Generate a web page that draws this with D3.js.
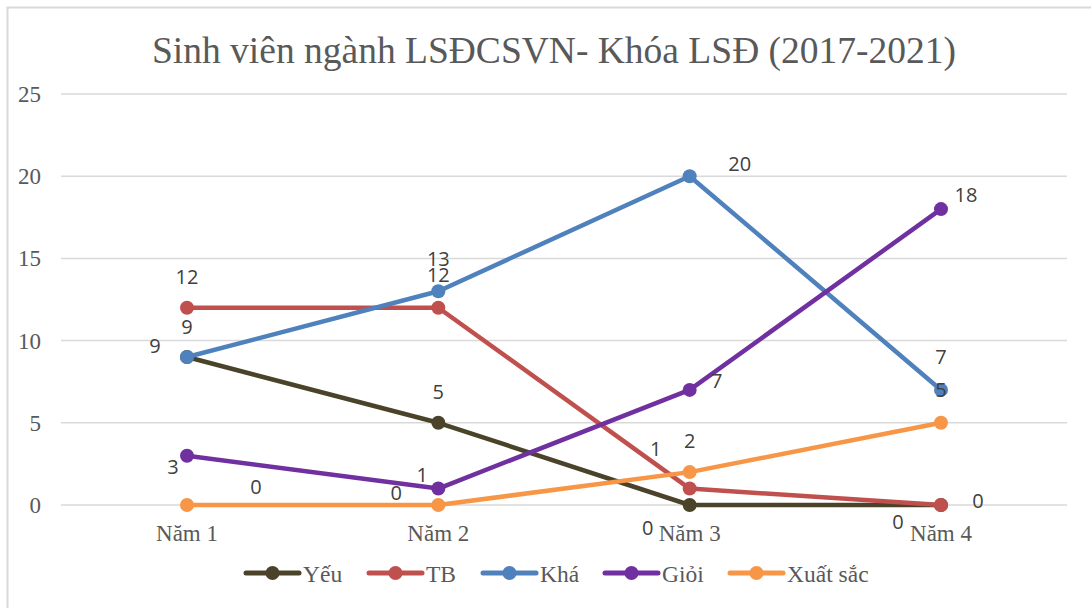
<!DOCTYPE html>
<html>
<head>
<meta charset="utf-8">
<script src="https://cdnjs.cloudflare.com/ajax/libs/d3/7.8.5/d3.min.js"></script>
<style>
  body { margin: 0; background: #fff; }
</style>
</head>
<body>
<div id="chart"></div>
<script>
// dữ liệu
const categories = ["Năm 1", "Năm 2", "Năm 3", "Năm 4"]
const seriesNames = ["Yếu", "TB", "Khá", "Giỏi", "Xuất sắc"]
const yeu = [9, 5, 0, 0]
const tb = [12, 12, 1, 0]
const kha = [9, 13, 20, 7]
const gioi = [3, 1, 7, 18]
const xuatSac = [0, 0, 2, 5]
const yTicks = [0, 5, 10, 15, 20, 25]

const colors = ["#4a432a", "#c0504d", "#4f81bd", "#7030a0", "#f79646"]
const allValues = [yeu, tb, kha, gioi, xuatSac]

// vị trí nhãn dữ liệu (dx, dy) so với điểm
const labelOffsets = [
	[[-32, -12], [0, -31], [-42, 22], [-43, 16]],
	[[0, -31], [0, -33], [-34, -40], [37, -5]],
	[[0, -31], [0, -33], [50, -13], [0, -33]],
	[[-14, 11], [-16, -14], [27, -9], [25, -15]],
	[[69, -19], [-42, -13], [0, -32], [0, -33]]
]

const width = 1091
const height = 608
const serif = "'Liberation Serif', 'Times New Roman', serif"

const svg = d3.select("#chart").append("svg")
	.attr("width", width)
	.attr("height", height)

// khung ngoài
svg.append("rect")
	.attr("x", 7.5)
	.attr("y", 7.5)
	.attr("width", 1200)
	.attr("height", 800)
	.attr("fill", "none")
	.attr("stroke", "#d9d9d9")
	.attr("stroke-width", 2)

svg.append("text")
	.attr("x", 554)
	.attr("y", 63)
	.attr("text-anchor", "middle")
	.attr("font-family", serif)
	.attr("font-size", "37.5px")
	.attr("fill", "#595959")
	.text("Sinh viên ngành LSĐCSVN- Khóa LSĐ (2017-2021)")

const x = d3.scalePoint()
	.domain(categories)
	.range([187, 941])

const y = d3.scaleLinear()
	.domain([0, 25])
	.range([505, 94])

// lưới ngang
svg.append("g")
	.selectAll("line")
	.data(yTicks)
	.enter()
	.append("line")
	.attr("x1", 61)
	.attr("x2", 1067)
	.attr("y1", d => y(d))
	.attr("y2", d => y(d))
	.attr("stroke", "#d9d9d9")
	.attr("stroke-width", 1.5)

svg.append("g")
	.selectAll("text")
	.data(yTicks)
	.enter()
	.append("text")
	.attr("x", 41)
	.attr("y", d => y(d) + 8)
	.attr("text-anchor", "end")
	.attr("font-family", serif)
	.attr("font-size", "23px")
	.attr("fill", "#595959")
	.text(d => d)

svg.append("g")
	.selectAll("text")
	.data(categories)
	.enter()
	.append("text")
	.attr("x", d => x(d))
	.attr("y", 541)
	.attr("text-anchor", "middle")
	.attr("font-family", serif)
	.attr("font-size", "23px")
	.attr("fill", "#595959")
	.text(d => d)

const line = d3.line()
	.x((d, i) => x(categories[i]))
	.y(d => y(d))

const seriesG = svg.selectAll(".series")
	.data(allValues)
	.enter()
	.append("g")
	.attr("class", "series")

seriesG.append("path")
	.attr("d", d => line(d))
	.attr("fill", "none")
	.attr("stroke", (d, i) => colors[i])
	.attr("stroke-width", 4.5)
	.attr("stroke-linejoin", "round")

seriesG.each(function (vals, si) {
	d3.select(this)
		.selectAll("circle")
		.data(vals)
		.enter()
		.append("circle")
		.attr("cx", (d, i) => x(categories[i]))
		.attr("cy", d => y(d))
		.attr("r", 7)
		.attr("fill", colors[si])
})

// nhãn dữ liệu
allValues.forEach(function (vals, si) {
	svg.append("g")
		.selectAll("text")
		.data(vals)
		.enter()
		.append("text")
		.attr("x", (d, i) => x(categories[i]) + labelOffsets[si][i][0])
		.attr("y", (d, i) => y(d) + labelOffsets[si][i][1])
		.attr("text-anchor", "middle")
		.attr("dominant-baseline", "central")
		.attr("font-family", "'Open Sans', sans-serif")
		.attr("font-size", "20px")
		.attr("fill", "#404040")
		.text(d => d)
})

// chú giải
const legendX = [244, 367, 481, 603, 728]
const legend = svg.selectAll(".legend")
	.data(seriesNames)
	.enter()
	.append("g")
	.attr("class", "legend")
	.attr("transform", (d, i) => "translate(" + legendX[i] + ",573)")

legend.append("line")
	.attr("x1", 2)
	.attr("x2", 55)
	.attr("stroke", (d, i) => colors[i])
	.attr("stroke-width", 5)
	.attr("stroke-linecap", "round")

legend.append("circle")
	.attr("cx", 28.5)
	.attr("r", 7)
	.attr("fill", (d, i) => colors[i])

legend.append("text")
	.attr("x", 59)
	.attr("y", 9)
	.attr("font-family", serif)
	.attr("font-size", "23.5px")
	.attr("fill", "#595959")
	.text(d => d)
</script>
</body>
</html>
